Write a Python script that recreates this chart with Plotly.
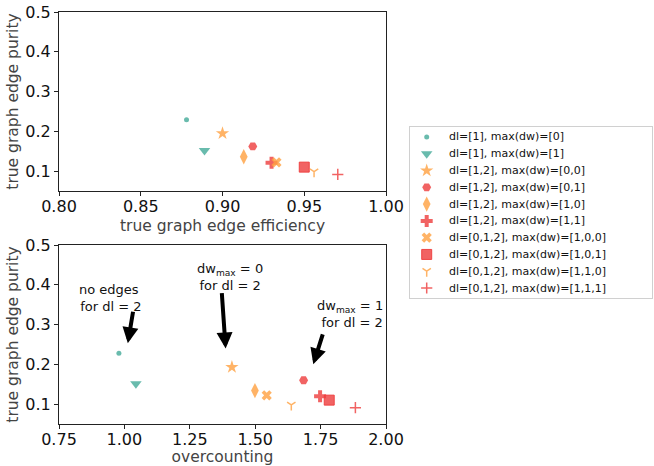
import plotly.graph_objects as go

labels = [
    "dl=[1], max(dw)=[0]",
    "dl=[1], max(dw)=[1]",
    "dl=[1,2], max(dw)=[0,0]",
    "dl=[1,2], max(dw)=[0,1]",
    "dl=[1,2], max(dw)=[1,0]",
    "dl=[1,2], max(dw)=[1,1]",
    "dl=[0,1,2], max(dw)=[1,0,0]",
    "dl=[0,1,2], max(dw)=[1,0,1]",
    "dl=[0,1,2], max(dw)=[1,1,0]",
    "dl=[0,1,2], max(dw)=[1,1,1]",
]
efficiency = [0.878, 0.889, 0.900, 0.9185, 0.913, 0.930, 0.933, 0.950, 0.956, 0.9705]
purity = [0.229, 0.152, 0.195, 0.162, 0.136, 0.121, 0.122, 0.110, 0.0985, 0.0917]
overcounting = [0.979, 1.044, 1.411, 1.685, 1.499, 1.748, 1.544, 1.783, 1.638, 1.883]
purity_b = [0.228, 0.151, 0.193, 0.160, 0.134, 0.120, 0.122, 0.110, 0.098, 0.091]

TEAL = "68,170,153"
ORANGE = "255,160,64"
RED = "238,60,60"
colors = [TEAL, TEAL, ORANGE, RED, ORANGE, RED, ORANGE, RED, ORANGE, RED]
symbols = ["circle", "triangle-down", "star", "hexagon2", "diamond-tall", "cross",
           "x", "square", "y-down-open", "cross-thin-open"]
sizes = [5, 10, 10, 9, 11, 10, 9, 10, 7, 8]

# annotation texts and arrows, in data units of the lower panel
notes = [
    (0.941, 0.366, "no edges<br> for dl = 2"),
    (1.405, 0.420, "dw<sub>max</sub> = 0<br>for dl = 2"),
    (1.861, 0.326, "dw<sub>max</sub> = 1<br> for dl = 2"),
]
arrows = [
    (1.013, 0.253, 1.034, 0.336),
    (1.387, 0.240, 1.372, 0.383),
    (1.722, 0.200, 1.760, 0.279),
]


def make_marker(i):
    c = colors[i]
    open_sym = symbols[i].endswith("open")
    return dict(
        symbol=symbols[i], size=sizes[i],
        color=f"rgba({c},0.8)",
        line=dict(width=1.5 if open_sym else (1 if symbols[i] == "square" else 0),
                  color=f"rgba({c},0.9)"),
    )


fig = go.Figure()
for i, lab in enumerate(labels):
    m = make_marker(i)
    fig.add_trace(go.Scatter(x=[efficiency[i]], y=[purity[i]], mode="markers",
                             marker=m, name=lab, xaxis="x", yaxis="y", showlegend=False))
    fig.add_trace(go.Scatter(x=[overcounting[i]], y=[purity_b[i]], mode="markers",
                             marker=m, name=lab, xaxis="x2", yaxis="y2", showlegend=False))
    # legend entry (drawn on a hidden axis so that row spacing matches)
    fig.add_trace(go.Scatter(x=[0.069], y=[i], mode="markers", marker=m, name=lab,
                             xaxis="x3", yaxis="y3", showlegend=False, hoverinfo="skip"))
    fig.add_annotation(x=0.152, y=i, xref="x3", yref="y3", text=lab, showarrow=False,
                       xanchor="left", yanchor="middle", font=dict(size=11, color="#111"))

ax_common = dict(showline=True, linecolor="#222", linewidth=1, mirror=True,
                 ticks="outside", ticklen=4, tickcolor="#222", showgrid=False,
                 zeroline=False, automargin=False, tickfont=dict(size=16, color="#111"))
title_font = dict(size=15.5, color="#444")
hidden = dict(showline=True, linecolor="#d0d0d0", linewidth=1, mirror=True, automargin=False,
              showticklabels=False, ticks="", showgrid=False, zeroline=False)

W = 595.0
H = 466 - 12 - 42
fig.update_layout(
    template="none",
    width=654, height=466,
    margin=dict(l=59, r=0, t=12, b=42, autoexpand=False),
    plot_bgcolor="white", paper_bgcolor="white",
    font=dict(family="DejaVu Sans"),
    showlegend=False,
    xaxis=dict(domain=[0, 327 / W], anchor="y", range=[0.8, 1.0], ticklabelstandoff=-3,
               tickvals=[0.8, 0.85, 0.9, 0.95, 1.0], ticktext=["0.80", "0.85", "0.90", "0.95", "1.00"],
               title=dict(text="true graph edge efficiency", font=title_font, standoff=4), **ax_common),
    yaxis=dict(domain=[(424 - 191) / H, 1], anchor="x", range=[0.05, 0.5],
               tickvals=[0.1, 0.2, 0.3, 0.4, 0.5],
               title=dict(text="true graph edge purity", font=title_font, standoff=2), **ax_common),
    xaxis2=dict(domain=[0, 327 / W], anchor="y2", range=[0.75, 2.0], ticklabelstandoff=-3,
                tickvals=[0.75, 1.0, 1.25, 1.5, 1.75, 2.0],
                ticktext=["0.75", "1.00", "1.25", "1.50", "1.75", "2.00"],
                title=dict(text="overcounting", font=title_font, standoff=4), **ax_common),
    yaxis2=dict(domain=[0, (424 - 245) / H], anchor="x2", range=[0.05, 0.5],
                tickvals=[0.1, 0.2, 0.3, 0.4, 0.5],
                title=dict(text="true graph edge purity", font=title_font, standoff=2), **ax_common),
    xaxis3=dict(domain=[351 / W, 593 / W], anchor="y3", range=[0, 1], **hidden),
    yaxis3=dict(domain=[(424 - 298) / H, (424 - 127) / H], anchor="x3",
                range=[9.595, -0.595], **hidden),
)

for hx, hy, tx, ty in arrows:
    fig.add_annotation(x=hx, y=hy, ax=tx, ay=ty, xref="x2", yref="y2",
                       axref="x2", ayref="y2", text="", showarrow=True,
                       arrowhead=2, arrowsize=0.8, arrowwidth=4, arrowcolor="black")

for x, y, t in notes:
    fig.add_annotation(x=x, y=y, xref="x2", yref="y2", text=t, showarrow=False,
                       font=dict(size=13, color="#111"), xanchor="center", yanchor="middle")

fig.write_html("out.html")
